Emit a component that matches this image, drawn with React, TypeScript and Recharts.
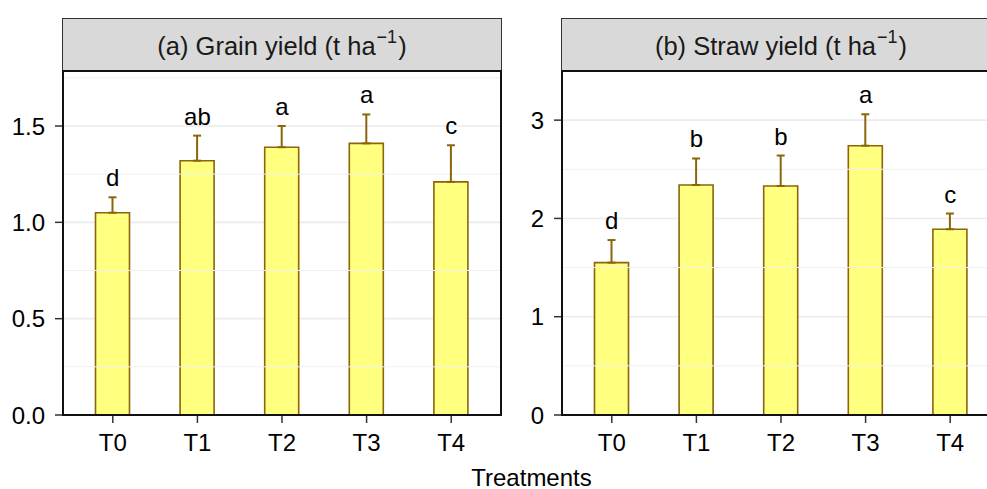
import React from 'react';
import { ComposedChart, Bar, ErrorBar, Line, LabelList, XAxis, YAxis, CartesianGrid, ReferenceLine } from 'recharts';

const treatments = ['T0', 'T1', 'T2', 'T3', 'T4'];

const grainYield = [1.05, 1.32, 1.39, 1.41, 1.21];
const grainErr = [0.08, 0.13, 0.11, 0.15, 0.19];
const grainLetters = ['d', 'ab', 'a', 'a', 'c'];

const strawYield = [1.55, 2.34, 2.33, 2.74, 1.89];
const strawErr = [0.23, 0.27, 0.31, 0.32, 0.16];
const strawLetters = ['d', 'b', 'b', 'a', 'c'];

const grainTicks = [0, 0.5, 1.0, 1.5];
const grainMinor = [0.25, 0.75, 1.25, 1.75];
const strawTicks = [0, 1, 2, 3];
const strawMinor = [0.5, 1.5, 2.5];

const FONT = '"Liberation Sans", Arial, Helvetica, sans-serif';
const BAR_FILL = '#FFFF80';
const BAR_STROKE = '#8B6508';

function build(values: number[], errs: number[], letters: string[]) {
  return treatments.map((t, i) => ({
    name: t,
    value: values[i],
    err: [0, errs[i]],
    top: values[i] + errs[i],
    label: letters[i],
  }));
}

type PanelProps = {
  left: number;
  data: any[];
  domainMax: number;
  ticks: number[];
  minor: number[];
  fmt: (v: number) => string;
};

function Panel({ left, data, domainMax, ticks, minor, fmt }: PanelProps) {
  return (
    <div style={{ position: 'absolute', left, top: 0 }}>
      <ComposedChart
        width={502}
        height={489}
        data={data}
        margin={{ top: 71, right: 1, bottom: 34, left: 0 }}
      >
        <CartesianGrid vertical={false} stroke="#EBEBEB" strokeWidth={1.6} />
        {minor.map((m) => (
          <ReferenceLine key={m} y={m} stroke="#EFEFEF" strokeWidth={1} ifOverflow="hidden" />
        ))}
        <XAxis
          dataKey="name"
          type="category"
          padding={{ left: 7.5, right: 7.5 }}
          height={40}
          axisLine={false}
          tickLine={{ stroke: '#333', strokeWidth: 1.5 }}
          tickSize={8}
          tickMargin={11}
          tick={{ fill: '#000', fontSize: 24 }}
          interval={0}
        />
        <YAxis
          type="number"
          width={63}
          domain={[0, domainMax]}
          allowDataOverflow
          ticks={ticks}
          tickFormatter={fmt}
          axisLine={false}
          tickLine={{ stroke: '#333', strokeWidth: 1.5 }}
          tickSize={8}
          tickMargin={10}
          tick={{ fill: '#000', fontSize: 24 }}
        />
        <Bar
          dataKey="value"
          barSize={34}
          fill={BAR_FILL}
          stroke={BAR_STROKE}
          strokeWidth={1.6}
          isAnimationActive={false}
        >
          <ErrorBar dataKey="err" width={4} stroke={BAR_STROKE} strokeWidth={2} direction="y" />
        </Bar>
        <Line
          dataKey="top"
          stroke="none"
          dot={false}
          activeDot={false}
          isAnimationActive={false}
        >
          <LabelList dataKey="label" position="top" offset={11} fill="#000" fontSize={24} />
        </Line>
      </ComposedChart>
    </div>
  );
}

function Strip({ x, title }: { x: number; title: string }) {
  const cx = x + 220;
  return (
    <g>
      <rect x={x + 0.5} y={18.5} width={439} height={52} fill="#D9D9D9" stroke="#333" strokeWidth={1} />
      <text x={cx} y={55} textAnchor="middle" fontSize={25.5} fill="#1A1A1A" style={{ fontFamily: FONT }}>
        {title}
        <tspan dx={1} dy={-12} fontSize={18}>{'\u22121'}</tspan>
        <tspan dx={1} dy={12} fontSize={25.5}>)</tspan>
      </text>
      <rect x={x + 1} y={71} width={438} height={344} fill="none" stroke="#111" strokeWidth={2} />
    </g>
  );
}

export default function App() {
  const grainData = build(grainYield, grainErr, grainLetters);
  const strawData = build(strawYield, strawErr, strawLetters);
  return (
    <div
      style={{
        position: 'fixed',
        left: 0,
        top: 0,
        width: 987,
        height: 489,
        overflow: 'hidden',
        background: '#fff',
        fontFamily: FONT,
      }}
    >
      <Panel left={0} data={grainData} domainMax={1.7855} ticks={grainTicks} minor={grainMinor} fmt={(v) => v.toFixed(1)} />
      <Panel left={499} data={strawData} domainMax={3.5} ticks={strawTicks} minor={strawMinor} fmt={(v) => String(v)} />
      <svg
        width={1010}
        height={489}
        style={{ position: 'absolute', left: 0, top: 0, pointerEvents: 'none' }}
      >
        <Strip x={62} title="(a) Grain yield (t ha" />
        <Strip x={561} title="(b) Straw yield (t ha" />
        <text x={531.5} y={486} textAnchor="middle" fontSize={24} fill="#000" style={{ fontFamily: FONT }}>
          Treatments
        </text>
      </svg>
    </div>
  );
}
